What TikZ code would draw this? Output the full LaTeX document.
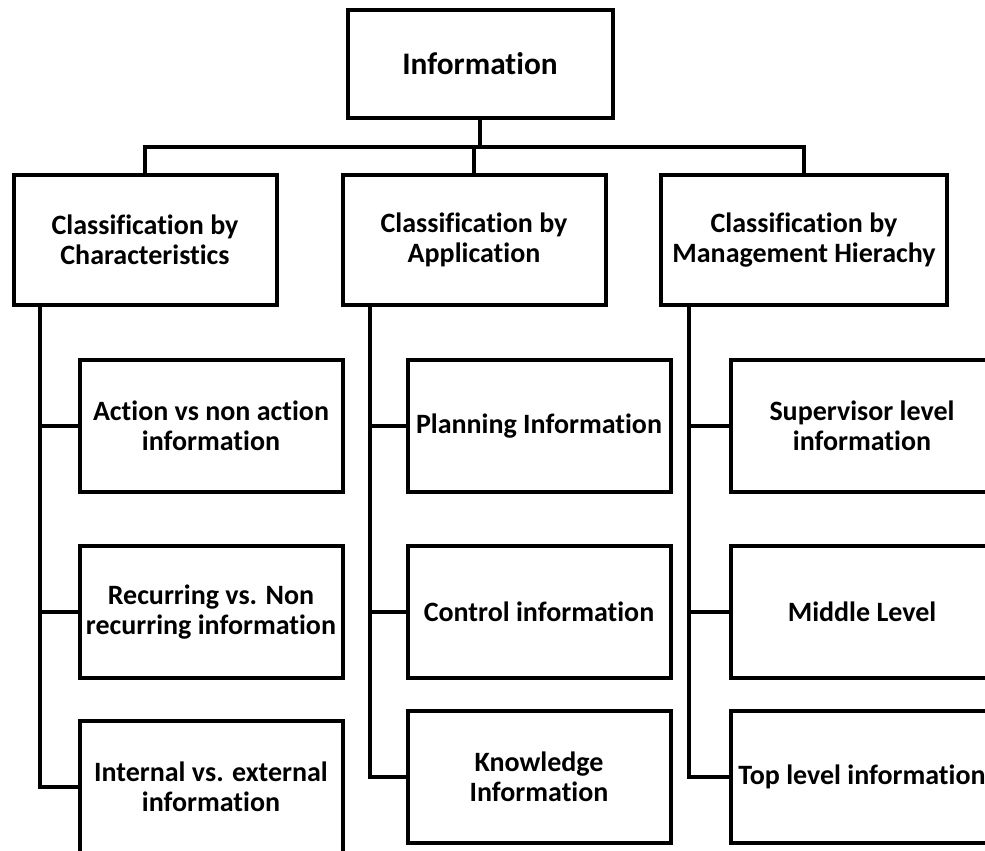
\documentclass[tikz,border=0pt]{standalone}
\usepackage{fontspec}
\setmainfont{Carlito}[Ligatures=CommonOff]
\begin{document}
\begin{tikzpicture}[x=0.75pt,y=-0.75pt,line width=3pt,
		box/.style={rectangle,draw,align=center,inner sep=0pt,font=\bfseries\fontsize{21}{22.5}\selectfont}]
	\clip (0,0) rectangle (985,850);
	\useasboundingbox (0,0) rectangle (985,850);
	
	\node[box,minimum width=198.75pt,minimum height=81pt,font=\bfseries\fontsize{23.5}{25}\selectfont] (info) at (480,64) {Information};
	\begin{scope}[every node/.style={box,minimum width=197.25pt,minimum height=97.5pt}]
		\node (bychar) at (145,240) {Classification by\\Characteristics};
		\node (byapp) at (474,240) {Classification by\\Application};
		\node[minimum width=214.5pt] (bymgmt) at (804,240) {Classification by\\Management Hierachy};
	\end{scope}
	\begin{scope}[every node/.style={box,minimum width=197.25pt,minimum height=99pt}]
		\node (action) at (211,426) {Action vs non action\\information};
		\node (recurring) at (211,612) {Recurring vs. Non\\recurring information};
		\node (internal) at (211,787) {Internal vs. external\\information};
		\node (planning) at (539,426) {Planning Information};
		\node (control) at (539,612) {Control information};
		\node (knowledge) at (539,777) {Knowledge\\Information};
		\node (supervisor) at (862,426) {Supervisor level\\information};
		\node (middle) at (862,612) {Middle Level};
		\node (toplevel) at (862,777) {Top level information};
	\end{scope}
	
	\coordinate (bar) at (480,147);
	\coordinate (trunkA) at (40,305);
	\coordinate (trunkB) at (370,305);
	\coordinate (trunkC) at (689,305);
	
	\draw (info.south) -- (bar);
	\draw (bychar.north) |- (bar) -| (bymgmt.north);
	\draw (byapp.north) -- (byapp.north |- bar);
	
	\draw (trunkA) |- (internal.west);
	\draw (action.west) -- (action.west -| trunkA);
	\draw (recurring.west) -- (recurring.west -| trunkA);
	\draw (trunkB) |- (knowledge.west);
	\draw (planning.west) -- (planning.west -| trunkB);
	\draw (control.west) -- (control.west -| trunkB);
	\draw (trunkC) |- (toplevel.west);
	\draw (supervisor.west) -- (supervisor.west -| trunkC);
	\draw (middle.west) -- (middle.west -| trunkC);
\end{tikzpicture}
\end{document}
